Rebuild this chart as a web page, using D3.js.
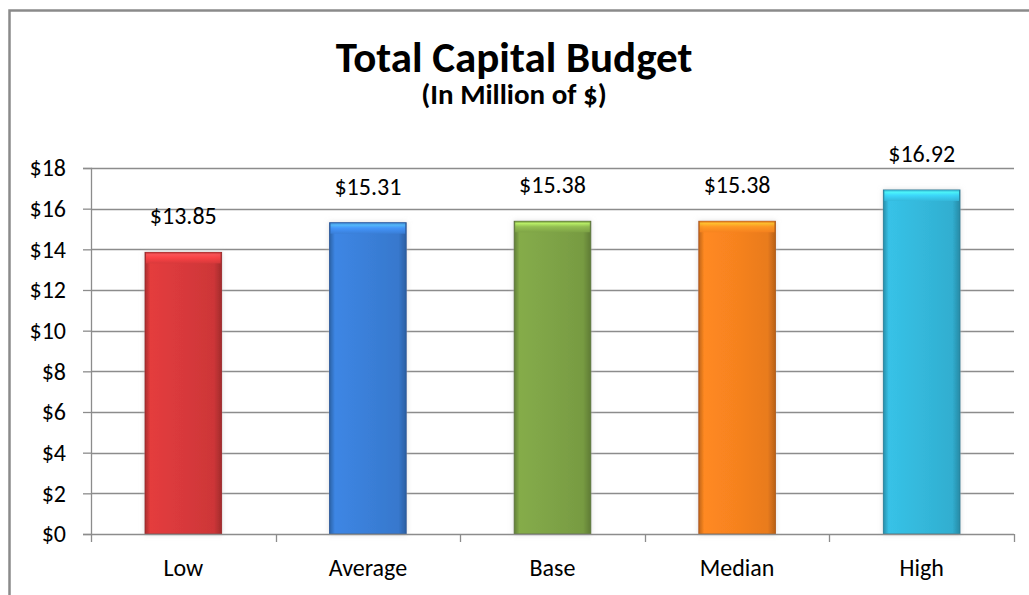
<!DOCTYPE html>
<html>
<head>
<meta charset="utf-8">
<script src="https://cdn.jsdelivr.net/npm/d3@7"></script>
<style>
  html, body { margin: 0; padding: 0; background: #ffffff; }
  svg { display: block; }
  text { font-family: Carlito, Lato, "Open Sans", sans-serif; fill: #000; }
</style>
</head>
<body>
<svg id="chart" width="1029" height="595"></svg>
<script>
// Budget scenarios (millions of dollars)
const categories = ["Low", "Average", "Base", "Median", "High"];
const values = [13.85, 15.31, 15.38, 15.38, 16.92];
const barColors = ["#d8393b", "#3a7fd8", "#7ea346", "#f6821f", "#34b8db"];
const yTicks = [0, 2, 4, 6, 8, 10, 12, 14, 16, 18];
const titleText = "Total Capital Budget";
const subtitleText = "(In Million of $)";

const svg = d3.select("#chart");
const W = 1029, H = 595;
const FONT = "Carlito, Lato, 'Open Sans', sans-serif";

// chart frame (continues past the right and bottom edge)
svg.append("rect")
  .attr("x", 9.5).attr("y", 10.5)
  .attr("width", W + 20).attr("height", H + 20)
  .attr("fill", "#fff")
  .attr("stroke", "#8a8a8a").attr("stroke-width", 2.5);

const plot = { left: 91, right: 1014, top: 168, bottom: 534 };

const x = d3.scaleBand()
  .domain(categories)
  .range([plot.left, plot.right])
  .paddingInner(0.585)
  .paddingOuter(0.2925);

const y = d3.scaleLinear()
  .domain([0, 18])
  .range([plot.bottom, plot.top]);

const fmt = v => "$" + d3.format(".2f")(v);

// title
svg.append("text")
  .attr("x", 514).attr("y", 72)
  .attr("text-anchor", "middle")
  .attr("font-size", 43).attr("font-weight", "bold")
  .text(titleText);
svg.append("text")
  .attr("x", 514).attr("y", 104)
  .attr("text-anchor", "middle")
  .attr("font-size", 29).attr("font-weight", "bold")
  .text(subtitleText);

// gridlines
svg.append("g")
  .selectAll("line")
  .data(yTicks.filter(t => t > 0))
  .join("line")
  .attr("x1", plot.left).attr("x2", plot.right)
  .attr("y1", d => Math.round(y(d)) + 0.5).attr("y2", d => Math.round(y(d)) + 0.5)
  .attr("stroke", "#8c8c8c").attr("stroke-width", 1.3);

// y axis
const yAxis = svg.append("g")
  .attr("transform", `translate(${plot.left},0)`)
  .call(d3.axisLeft(y).tickValues(yTicks).tickFormat(d => "$" + d).tickSize(8).tickPadding(17));
yAxis.attr("font-family", FONT).attr("font-size", 24);
yAxis.select(".domain").attr("stroke", "#8c8c8c").attr("stroke-width", 1.3);
yAxis.selectAll(".tick line").attr("stroke", "#8c8c8c").attr("stroke-width", 1.3);
yAxis.selectAll(".tick text").attr("fill", "#000");

// gradients for the bevelled bar look
const defs = svg.append("defs");
barColors.forEach((c, i) => {
  const base = d3.color(c);
  const g = defs.append("linearGradient")
    .attr("id", "side" + i)
    .attr("x1", 0).attr("x2", 1).attr("y1", 0).attr("y2", 0);
  g.append("stop").attr("offset", 0).attr("stop-color", base.darker(0.7));
  g.append("stop").attr("offset", 0.07).attr("stop-color", base.brighter(0.15));
  g.append("stop").attr("offset", 0.5).attr("stop-color", base);
  g.append("stop").attr("offset", 0.9).attr("stop-color", base.darker(0.15));
  g.append("stop").attr("offset", 1).attr("stop-color", base.darker(0.8));

  const t = defs.append("linearGradient")
    .attr("id", "top" + i)
    .attr("x1", 0).attr("x2", 0).attr("y1", 0).attr("y2", 1);
  t.append("stop").attr("offset", 0).attr("stop-color", base.darker(0.3));
  t.append("stop").attr("offset", 0.2).attr("stop-color", base.brighter(1.2));
  t.append("stop").attr("offset", 0.5).attr("stop-color", base.brighter(0.5));
  t.append("stop").attr("offset", 1).attr("stop-color", base);
});

const shadow = defs.append("filter").attr("id", "halo")
  .attr("x", "-20%").attr("y", "-10%").attr("width", "140%").attr("height", "120%");
shadow.append("feGaussianBlur").attr("in", "SourceAlpha").attr("stdDeviation", 2.5).attr("result", "b");
shadow.append("feFlood").attr("flood-color", "#c8c8c8").attr("flood-opacity", 0.6);
shadow.append("feComposite").attr("in2", "b").attr("operator", "in").attr("result", "s");
const merge = shadow.append("feMerge");
merge.append("feMergeNode").attr("in", "s");
merge.append("feMergeNode").attr("in", "SourceGraphic");

const bars = svg.append("g")
  .selectAll("g")
  .data(categories.map((c, i) => ({ c, v: values[i], i })))
  .join("g");

bars.append("rect")
  .attr("x", d => x(d.c))
  .attr("y", d => y(d.v))
  .attr("width", x.bandwidth())
  .attr("height", d => y(0) - y(d.v))
  .attr("fill", d => `url(#side${d.i})`)
  .attr("stroke", d => d3.color(barColors[d.i]).darker(0.9))
  .attr("stroke-width", 1)
  .attr("filter", "url(#halo)");

// top bevel
bars.append("rect")
  .attr("x", d => x(d.c) + 1)
  .attr("y", d => y(d.v))
  .attr("width", x.bandwidth() - 2)
  .attr("height", 11)
  .attr("fill", d => `url(#top${d.i})`)
  .attr("opacity", 0.85);

// x axis
const xAxis = svg.append("g")
  .attr("transform", `translate(0,${plot.bottom})`);
xAxis.append("line")
  .attr("x1", plot.left).attr("x2", plot.right)
  .attr("y1", 0.5).attr("y2", 0.5)
  .attr("stroke", "#8c8c8c").attr("stroke-width", 1.5);
const step = x.step();
const boundaries = categories.map(c => x(c) - x.paddingOuter() * step).concat([plot.right]);
xAxis.selectAll(".xt")
  .data(boundaries)
  .join("line")
  .attr("class", "xt")
  .attr("x1", d => Math.round(d) + 0.5).attr("x2", d => Math.round(d) + 0.5)
  .attr("y1", 0).attr("y2", 8)
  .attr("stroke", "#8c8c8c").attr("stroke-width", 1.3);
xAxis.selectAll(".xl")
  .data(categories)
  .join("text")
  .attr("class", "xl")
  .attr("x", d => x(d) + x.bandwidth() / 2)
  .attr("y", 42)
  .attr("text-anchor", "middle")
  .attr("font-size", 24)
  .text(d => d);

// value labels
svg.append("g")
  .selectAll("text")
  .data(categories.map((c, i) => ({ c, v: values[i] })))
  .join("text")
  .attr("x", d => x(d.c) + x.bandwidth() / 2)
  .attr("y", d => y(d.v) - 28)
  .attr("text-anchor", "middle")
  .attr("font-size", 24)
  .text(d => fmt(d.v));
</script>
</body>
</html>
